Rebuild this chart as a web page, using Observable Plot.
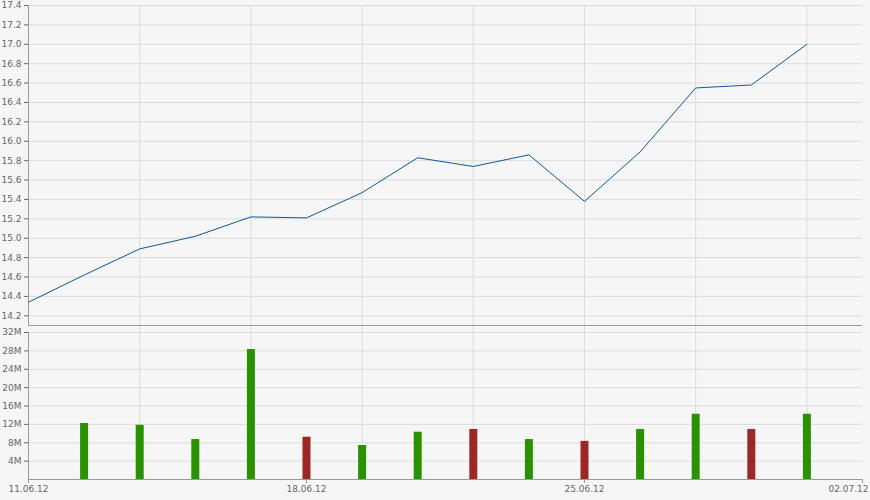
<!DOCTYPE html>
<html>
<head>
<meta charset="utf-8">
<script src="https://cdn.jsdelivr.net/npm/d3@7"></script>
<script src="https://cdn.jsdelivr.net/npm/@observablehq/plot@0.6"></script>
<style>
  html, body { margin: 0; padding: 0; background: #f6f6f6; }
  svg { display: block; }
</style>
</head>
<body>
<div id="chart"></div>
<script>
// Trading-day index (5 per calendar week), 0 = 11.06.12
const priceIndex = [0, 1, 2, 3, 4, 5, 6, 7, 8, 9, 10, 11, 12, 13, 14];
const closePrices = [14.34, 14.62, 14.89, 15.02, 15.22, 15.21, 15.47, 15.83, 15.74, 15.86, 15.38, 15.89, 16.55, 16.58, 17.0];

const volumeIndex = [1, 2, 3, 4, 5, 6, 7, 8, 9, 10, 11, 12, 13, 14];
const volumes = [12.2e6, 11.8e6, 8.7e6, 28.3e6, 9.2e6, 7.4e6, 10.3e6, 10.9e6, 8.7e6, 8.3e6, 10.9e6, 14.2e6, 10.9e6, 14.2e6];
const volumeDirection = ["up", "up", "up", "up", "down", "up", "up", "down", "up", "down", "up", "up", "down", "up"];

const priceTicks = [14.2, 14.4, 14.6, 14.8, 15.0, 15.2, 15.4, 15.6, 15.8, 16.0, 16.2, 16.4, 16.6, 16.8, 17.0, 17.2, 17.4];
const volumeTicks = [4e6, 8e6, 12e6, 16e6, 20e6, 24e6, 28e6, 32e6];
const volumeTickLabels = ["4M", "8M", "12M", "16M", "20M", "24M", "28M", "32M"];
const dateTickIndex = [0, 5, 10, 15];
const dateTickLabels = ["11.06.12", "18.06.12", "25.06.12", "02.07.12"];
const verticalGridIndex = [2, 4, 6, 8, 10, 12, 14];

const priceData = priceIndex.map((i, k) => ({i, v: closePrices[k]}));
const volumeData = volumeIndex.map((i, k) => ({i, v: volumes[k], d: volumeDirection[k]}));
const dateTicks = dateTickIndex.map((i, k) => ({i, label: dateTickLabels[k]}));

const common = {
  width: 870,
  marginLeft: 28,
  marginRight: 8,
  style: {background: "#f6f6f6", fontFamily: "DejaVu Sans", fontSize: "9px", color: "#666"}
};

const pricePanel = Plot.plot({
  ...common,
  height: 326,
  marginTop: 5,
  marginBottom: 1,
  x: {domain: [0, 15], axis: null},
  y: {domain: [14.1, 17.4], ticks: priceTicks, tickFormat: d3.format(".1f"), tickSize: 4, tickPadding: 3, label: null},
  marks: [
    Plot.gridY(priceTicks, {stroke: "#dcdcdc", strokeOpacity: 1}),
    Plot.gridX(verticalGridIndex, {stroke: "#dcdcdc", strokeOpacity: 1}),
    Plot.ruleY([14.1], {stroke: "#999"}),
    Plot.ruleX([0], {stroke: "#999"}),
    Plot.line(priceData, {x: "i", y: "v", stroke: "#0b58a0", strokeWidth: 1})
  ]
});

const volumePanel = Plot.plot({
  ...common,
  height: 174,
  marginTop: 6,
  marginBottom: 21,
  x: {domain: [0, 15], axis: null},
  y: {domain: [0, 32e6], ticks: volumeTicks, tickFormat: (d) => volumeTickLabels[volumeTicks.indexOf(d)], tickSize: 4, tickPadding: 3, label: null},
  color: {domain: ["up", "down"], range: ["#2a9200", "#9c2727"]},
  marks: [
    Plot.gridY(volumeTicks, {stroke: "#dcdcdc", strokeOpacity: 1}),
    Plot.gridX(verticalGridIndex, {stroke: "#dcdcdc", strokeOpacity: 1, insetTop: -6}),
    Plot.ruleX(volumeData, {x: "i", y1: 0, y2: "v", stroke: "d", strokeWidth: 8}),
    Plot.ruleY([0], {stroke: "#999"}),
    Plot.ruleX([0], {stroke: "#999"}),
    Plot.ruleX(dateTicks, {x: "i", y1: 0, y2: 0, stroke: "#999", insetBottom: -4}),
    Plot.text(dateTicks.slice(0, 3), {x: "i", text: "label", frameAnchor: "bottom", dy: 12, fill: "#666", textAnchor: "middle"}),
    Plot.text(dateTicks.slice(3), {x: "i", text: "label", frameAnchor: "bottom", dy: 12, dx: 6, fill: "#666", textAnchor: "end"})
  ]
});

document.getElementById("chart").append(pricePanel, volumePanel);
</script>
</body>
</html>
